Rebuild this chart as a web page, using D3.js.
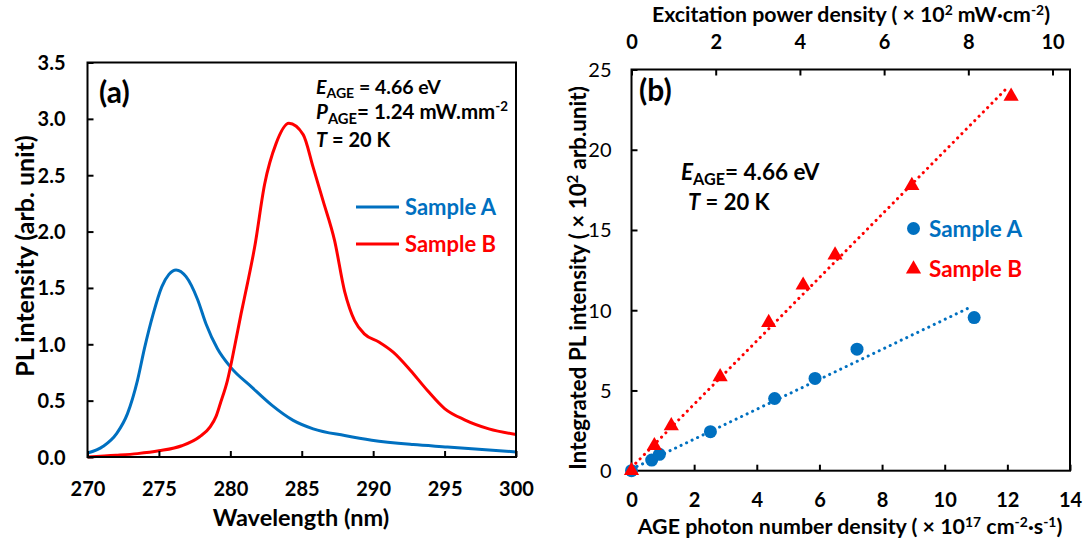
<!DOCTYPE html>
<html>
<head>
<meta charset="utf-8">
<script src="https://cdn.jsdelivr.net/npm/d3@7"></script>
<style>
  html, body { margin: 0; padding: 0; background: #fff; }
  svg { display: block; font-family: Lato, "Open Sans", sans-serif; }
</style>
</head>
<body>
<svg id="chart" width="1088" height="545"></svg>
<script>
// ---------- Panel (a) data ----------
const wavelengthA = [270, 271.1, 272.05, 272.8, 273.5, 274.0, 274.6, 275.2, 275.7, 276.2, 276.9, 277.7, 278.3, 279.1, 280.0, 281.5, 282.9, 284.4, 285.8, 288.0, 289.9, 292.8, 295.2, 300];
const intensityA  = [0.035, 0.095, 0.21, 0.385, 0.68, 0.97, 1.27, 1.51, 1.62, 1.66, 1.60, 1.40, 1.18, 0.96, 0.80, 0.62, 0.46, 0.325, 0.25, 0.19, 0.148, 0.11, 0.089, 0.045];
const wavelengthB = [270, 272, 273.5, 275, 276.6, 277.85, 278.6, 279.0, 279.3, 279.8, 280.3, 280.75, 281.2, 281.7, 282.4, 283.2, 284.1, 285.1, 285.8, 286.5, 287.3, 288.0, 288.35, 288.7, 289.4, 290.4, 291.4, 292.6, 293.8, 295.0, 296.4, 298.1, 300];
const intensityB  = [0.0, 0.015, 0.03, 0.055, 0.10, 0.18, 0.27, 0.36, 0.475, 0.68, 0.98, 1.27, 1.54, 1.86, 2.42, 2.78, 2.96, 2.86, 2.57, 2.27, 1.92, 1.47, 1.32, 1.21, 1.09, 1.02, 0.93, 0.77, 0.59, 0.43, 0.33, 0.25, 0.20];
const xTicksA = [270, 275, 280, 285, 290, 295, 300];
const yTicksA = [0.0, 0.5, 1.0, 1.5, 2.0, 2.5, 3.0, 3.5];

// ---------- Panel (b) data ----------
const photonA = [0, 0.645, 0.89, 2.52, 4.57, 5.86, 7.20, 10.94];
const plA     = [0, 0.66, 1.02, 2.43, 4.50, 5.75, 7.57, 9.54];
const photonB = [0, 0.73, 1.27, 2.83, 4.38, 5.48, 6.50, 8.95, 12.12];
const plB     = [0, 1.56, 2.80, 5.85, 9.23, 11.56, 13.44, 17.77, 23.33];
const fitAx = [0, 10.83], fitAy = [0.1, 10.2];
const fitBx = [0, 11.96], fitBy = [0.2, 23.79];
const xTicksB = [0, 2, 4, 6, 8, 10, 12, 14];
const topTicksB = [0, 2, 4, 6, 8, 10];
const yTicksB = [0, 5, 10, 15, 20, 25];

const BLUE = "#0070C0", RED = "#FF0000";
const svg = d3.select("#chart");

// ---------- Panel (a) ----------
const xa = d3.scaleLinear().domain([270, 300]).range([87.5, 516]);
const ya = d3.scaleLinear().domain([0, 3.5]).range([457, 62.5]);
const ga = svg.append("g");

const lineA = d3.line().x(d => xa(d[0])).y(d => ya(d[1])).curve(d3.curveMonotoneX);
ga.append("path").datum(d3.zip(wavelengthA, intensityA)).attr("d", lineA)
  .attr("fill", "none").attr("stroke", BLUE).attr("stroke-width", 3);
ga.append("path").datum(d3.zip(wavelengthB, intensityB)).attr("d", lineA)
  .attr("fill", "none").attr("stroke", RED).attr("stroke-width", 3);

ga.append("rect").attr("x", xa(270)).attr("y", ya(3.5)).attr("width", xa(300) - xa(270)).attr("height", ya(0) - ya(3.5))
  .attr("fill", "none").attr("stroke", "#000").attr("stroke-width", 2);

const axA_x = ga.append("g").attr("transform", `translate(0,${ya(0)})`)
  .call(d3.axisBottom(xa).tickValues(xTicksA).tickSizeInner(-6).tickSizeOuter(0).tickFormat(d3.format("d")));
const axA_y = ga.append("g").attr("transform", `translate(${xa(270)},0)`)
  .call(d3.axisLeft(ya).tickValues(yTicksA).tickSizeInner(-6).tickSizeOuter(0).tickFormat(d3.format(".1f")));
[axA_x, axA_y].forEach(a => {
  a.select(".domain").remove();
  a.selectAll("line").attr("stroke", "#000").attr("stroke-width", 2);
  a.selectAll("text").attr("font-size", 20).attr("font-weight", 700).attr("fill", "#000").attr("font-family", "Lato, sans-serif");
});
axA_y.selectAll("text").attr("x", -22).attr("dy", "0.35em");
axA_x.selectAll("text").attr("y", 32).attr("dy", "0.35em");

ga.append("text").attr("x", 301).attr("y", 518).attr("dy", "0.35em").attr("text-anchor", "middle")
  .attr("font-size", 23.5).attr("font-weight", 700).text("Wavelength (nm)");
ga.append("text").attr("transform", "translate(25,256) rotate(-90)").attr("dy", "0.35em").attr("text-anchor", "middle")
  .attr("font-size", 25).attr("font-weight", 700).text("PL intensity (arb. unit)");

ga.append("text").attr("x", 99).attr("y", 92).attr("dy", "0.35em")
  .attr("font-size", 30).attr("font-weight", 700).text("(a)");

function subLabel(g, x, y, letter, rest, size, weight, sup) {
  const t = g.append("text").attr("x", x).attr("y", y).attr("dy", "0.35em")
    .attr("font-size", size).attr("font-weight", weight).attr("fill", "#000");
  t.append("tspan").attr("font-style", "italic").text(letter);
  t.append("tspan").attr("font-size", size * 0.72).attr("dy", size * 0.22).text("AGE");
  t.append("tspan").attr("dy", -size * 0.22).text(rest);
  if (sup) t.append("tspan").attr("font-size", size * 0.65).attr("dy", -size * 0.38).text(sup);
  return t;
}
subLabel(ga, 316, 87, "E", " = 4.66 eV", 19.5, 700);
subLabel(ga, 316, 112, "P", "= 1.24 mW.mm", 20.5, 700, "-2");
const tA = ga.append("text").attr("x", 316).attr("y", 140).attr("dy", "0.35em").attr("font-size", 20).attr("font-weight", 700);
tA.append("tspan").attr("font-style", "italic").text("T");
tA.append("tspan").text(" = 20 K");

const legA = [{c: BLUE, t: "Sample A", y: 207}, {c: RED, t: "Sample B", y: 244}];
legA.forEach(l => {
  ga.append("line").attr("x1", 356).attr("x2", 399).attr("y1", l.y).attr("y2", l.y).attr("stroke", l.c).attr("stroke-width", 3);
  ga.append("text").attr("x", 405).attr("y", l.y).attr("dy", "0.35em").attr("font-size", 22).attr("font-weight", 700)
    .attr("fill", l.c).text(l.t);
});

// ---------- Panel (b) ----------
const xb = d3.scaleLinear().domain([0, 14]).range([631.5, 1070]);
const xbTop = d3.scaleLinear().domain([0, 10.415]).range([631.5, 1070]);
const yb = d3.scaleLinear().domain([0, 25]).range([470.7, 69.5]);
const gb = svg.append("g");

gb.append("rect").attr("x", xb(0)).attr("y", yb(25)).attr("width", xb(14) - xb(0)).attr("height", yb(0) - yb(25))
  .attr("fill", "none").attr("stroke", "#000").attr("stroke-width", 2);

const axB_x = gb.append("g").attr("transform", `translate(0,${yb(0)})`)
  .call(d3.axisBottom(xb).tickValues(xTicksB).tickSizeInner(-6).tickSizeOuter(0).tickFormat(d3.format("d")));
const axB_top = gb.append("g").attr("transform", `translate(0,${yb(25)})`)
  .call(d3.axisTop(xbTop).tickValues(topTicksB).tickSizeInner(-6).tickSizeOuter(0).tickFormat(d3.format("d")));
const axB_y = gb.append("g").attr("transform", `translate(${xb(0)},0)`)
  .call(d3.axisLeft(yb).tickValues(yTicksB).tickSizeInner(-6).tickSizeOuter(0).tickFormat(d3.format("d")));
[axB_x, axB_top, axB_y].forEach(a => {
  a.select(".domain").remove();
  a.selectAll("line").attr("stroke", "#000").attr("stroke-width", 2);
  a.selectAll("text").attr("font-size", 20).attr("fill", "#000").attr("font-family", "Lato, sans-serif");
});
axB_x.selectAll("text").attr("y", 29).attr("dy", "0.35em").attr("font-weight", 700);
axB_top.selectAll("text").attr("y", 41.7 - yb(25)).attr("dy", "0.35em").attr("font-weight", 700);
axB_y.selectAll("text").attr("x", -20).attr("dy", "0.35em").attr("font-weight", 400);

const lineB = d3.line().x(d => xb(d[0])).y(d => yb(d[1]));
gb.append("path").datum(d3.zip(fitAx, fitAy)).attr("d", lineB).attr("fill", "none")
  .attr("stroke", BLUE).attr("stroke-width", 3).attr("stroke-linecap", "round").attr("stroke-dasharray", "0.1 6");
gb.append("path").datum(d3.zip(fitBx, fitBy)).attr("d", lineB).attr("fill", "none")
  .attr("stroke", RED).attr("stroke-width", 3).attr("stroke-linecap", "round").attr("stroke-dasharray", "0.1 6");

gb.selectAll("circle.a").data(d3.zip(photonA, plA)).join("circle").attr("class", "a")
  .attr("cx", d => xb(d[0])).attr("cy", d => yb(d[1])).attr("r", 6.5).attr("fill", BLUE);
const tri = d3.symbol().type(d3.symbolTriangle).size(100);
gb.selectAll("path.b").data(d3.zip(photonB, plB)).join("path").attr("class", "b")
  .attr("transform", d => `translate(${xb(d[0])},${yb(d[1])})`).attr("d", tri).attr("fill", RED);

gb.append("text").attr("x", 639).attr("y", 90).attr("dy", "0.35em").attr("font-size", 30).attr("font-weight", 700).text("(b)");
subLabel(gb, 681, 172, "E", "= 4.66 eV", 22.5, 700);
const tB = gb.append("text").attr("x", 688).attr("y", 202).attr("dy", "0.35em").attr("font-size", 22).attr("font-weight", 700);
tB.append("tspan").attr("font-style", "italic").text("T");
tB.append("tspan").text(" = 20 K");

gb.append("circle").attr("cx", 913.5).attr("cy", 228.5).attr("r", 6.5).attr("fill", BLUE);
gb.append("path").attr("transform", "translate(913.5,269)").attr("d", tri).attr("fill", RED);
gb.append("text").attr("x", 929).attr("y", 229).attr("dy", "0.35em").attr("font-size", 22.5).attr("font-weight", 700).attr("fill", BLUE).text("Sample A");
gb.append("text").attr("x", 929).attr("y", 269).attr("dy", "0.35em").attr("font-size", 22.5).attr("font-weight", 700).attr("fill", RED).text("Sample B");

function sciTitle(g, attrs, parts, size) {
  const t = g.append("text").attr("text-anchor", "middle").attr("dy", "0.35em").attr("font-size", size).attr("font-weight", 700);
  Object.entries(attrs).forEach(([k, v]) => t.attr(k, v));
  let shift = 0;
  parts.forEach(p => {
    const s = t.append("tspan").text(p.t);
    const target = p.sup ? -size * 0.35 : 0;
    if (p.sup) s.attr("font-size", size * 0.65);
    if (target !== shift) { s.attr("dy", target - shift); shift = target; }
  });
  return t;
}
sciTitle(gb, {x: 851, y: 15}, [
  {t: "Excitation power density ( \u00D7 10"}, {t: "2", sup: true}, {t: " mW\u00B7cm"}, {t: "-2", sup: true}, {t: ")"}
], 21.3);
sciTitle(gb, {x: 850, y: 527}, [
  {t: "AGE photon  number density ( \u00D7 10"}, {t: "17", sup: true}, {t: " cm"}, {t: "-2", sup: true}, {t: "\u00B7s"}, {t: "-1", sup: true}, {t: ")"}
], 21.4);
sciTitle(gb, {transform: "translate(578,278) rotate(-90)"}, [
  {t: "Integrated PL intensity ( \u00D7 10"}, {t: "2", sup: true}, {t: " arb.unit)"}
], 22.4);
</script>
</body>
</html>
